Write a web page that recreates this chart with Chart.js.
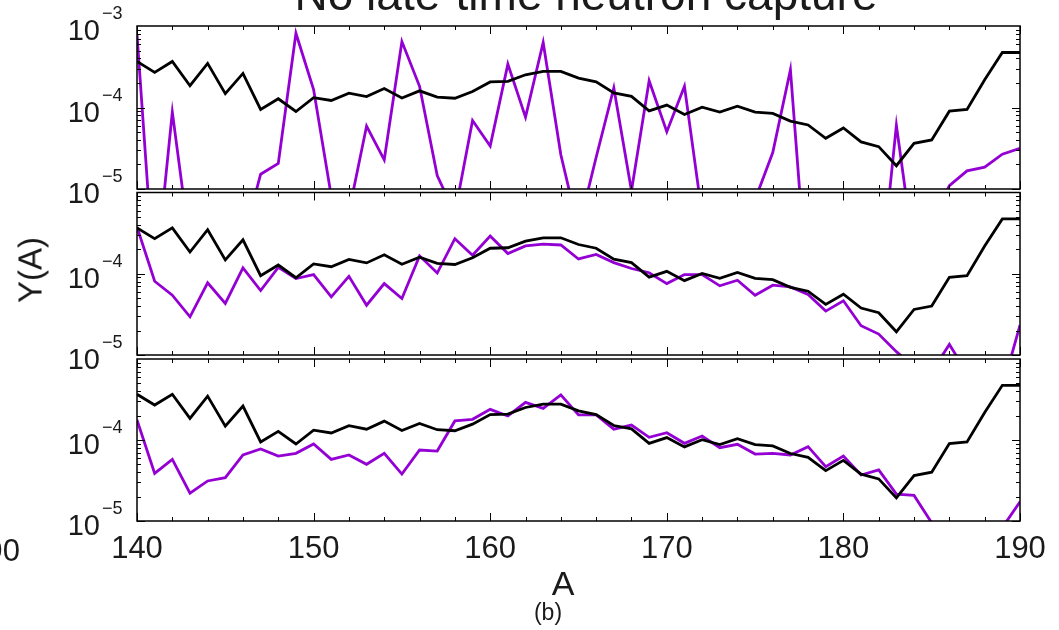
<!DOCTYPE html>
<html>
<head>
<meta charset="utf-8">
<script src="https://cdn.jsdelivr.net/npm/chart.js@4/dist/chart.umd.min.js"></script>
<style>
  html, body { margin: 0; padding: 0; background: #fff; }
  #wrap { position: relative; width: 1059px; height: 630px; overflow: hidden;
          font-family: "Liberation Sans", Arial, sans-serif; color: #1a1a1a; }
  #wrap canvas { position: absolute; left: 0; top: 0; }
  .txt { position: absolute; white-space: nowrap; line-height: 1; }
</style>
</head>
<body>
<div id="wrap">
  <canvas id="panel1" width="1059" height="630"></canvas>
  <canvas id="panel2" width="1059" height="630"></canvas>
  <canvas id="panel3" width="1059" height="630"></canvas>
  <div class="txt" id="title" style="left:586px; top:-29px; font-size:46px; transform:translateX(-50%);">No late-time neutron capture</div>
  <div class="txt" id="ylabel" style="left:30px; top:270px; font-size:33px; transform:translate(-50%,-50%) rotate(-90deg);">Y(A)</div>
  <div class="txt" id="xlabel" style="left:563px; top:566px; font-size:34px; transform:translateX(-50%);">A</div>
  <div class="txt" id="tag" style="left:548px; top:601px; font-size:23px; transform:translateX(-50%);">(b)</div>
  <div class="txt" id="cutTick" style="right:1039px; top:535px; font-size:31px; text-align:right;">190</div>
</div>
<script>
// Mass numbers
const massA = [140, 141, 142, 143, 144, 145, 146, 147, 148, 149,
               150, 151, 152, 153, 154, 155, 156, 157, 158, 159,
               160, 161, 162, 163, 164, 165, 166, 167, 168, 169,
               170, 171, 172, 173, 174, 175, 176, 177, 178, 179,
               180, 181, 182, 183, 184, 185, 186, 187, 188, 189, 190];

// Reference abundances (black, same in every panel)
const solarY = [3.67e-4, 2.70e-4, 3.67e-4, 1.85e-4, 3.48e-4, 1.48e-4, 2.62e-4, 9.46e-5, 1.28e-4, 8.93e-5,
                1.32e-4, 1.22e-4, 1.50e-4, 1.36e-4, 1.71e-4, 1.31e-4, 1.60e-4, 1.34e-4, 1.30e-4, 1.57e-4,
                2.06e-4, 2.09e-4, 2.52e-4, 2.77e-4, 2.77e-4, 2.29e-4, 2.06e-4, 1.51e-4, 1.37e-4, 9.10e-5,
                1.07e-4, 8.22e-5, 1.01e-4, 8.77e-5, 1.04e-4, 8.77e-5, 8.45e-5, 6.81e-5, 6.10e-5, 4.19e-5,
                5.60e-5, 3.78e-5, 3.31e-5, 1.93e-5, 3.64e-5, 4.00e-5, 9.02e-5, 9.46e-5, 2.19e-4, 4.73e-4, 4.73e-4];

// Model abundances (purple), one array per panel
const modelTop = [7.9e-4, 6.3e-7, 8.77e-5, 2.0e-6, 1.6e-6, 1.6e-6, 2.3e-6, 1.52e-5, 2.06e-5, 8.15e-4,
                  1.66e-4, 8.2e-6, 5.2e-6, 5.92e-5, 2.28e-5, 6.44e-4, 1.82e-4, 1.46e-5, 5.0e-6, 6.93e-5,
                  3.37e-5, 3.41e-4, 7.62e-5, 6.27e-4, 2.63e-5, 3.2e-6, 2.45e-5, 1.74e-4, 9.5e-6, 2.13e-4,
                  5.05e-5, 1.82e-4, 4.8e-6, 1.6e-6, 2.5e-6, 7.4e-6, 2.80e-5, 2.90e-4, 4.2e-7, 3.0e-7,
                  3.0e-7, 3.0e-7, 4.5e-7, 6.03e-5, 1.6e-6, 4.0e-6, 1.10e-5, 1.67e-5, 1.85e-5, 2.67e-5, 3.16e-5];

const modelMid = [3.76e-4, 8.09e-5, 5.44e-5, 2.95e-5, 7.73e-5, 4.31e-5, 1.18e-4, 6.21e-5, 1.20e-4, 8.73e-5,
                  9.77e-5, 5.20e-5, 9.31e-5, 4.10e-5, 7.57e-5, 4.95e-5, 1.66e-4, 1.02e-4, 2.70e-4, 1.69e-4,
                  2.91e-4, 1.77e-4, 2.20e-4, 2.32e-4, 2.26e-4, 1.52e-4, 1.73e-4, 1.37e-4, 1.16e-4, 1.03e-4,
                  7.57e-5, 9.77e-5, 9.77e-5, 7.10e-5, 8.32e-5, 5.44e-5, 7.23e-5, 6.89e-5, 5.55e-5, 3.47e-5,
                  4.65e-5, 2.29e-5, 1.81e-5, 1.10e-5, 7.1e-6, 6.2e-6, 1.35e-5, 6.0e-6, 5.0e-6, 3.9e-6, 2.33e-5];

const modelBot = [1.77e-4, 3.87e-5, 5.77e-5, 2.20e-5, 3.12e-5, 3.43e-5, 6.53e-5, 7.74e-5, 6.34e-5, 6.84e-5,
                  8.93e-5, 5.77e-5, 6.53e-5, 5.01e-5, 6.84e-5, 3.80e-5, 7.53e-5, 7.31e-5, 1.72e-4, 1.80e-4,
                  2.39e-4, 1.98e-4, 2.92e-4, 2.46e-4, 3.60e-4, 2.04e-4, 2.04e-4, 1.36e-4, 1.53e-4, 1.08e-4,
                  1.23e-4, 9.10e-5, 1.12e-4, 8.04e-5, 8.85e-5, 6.71e-5, 6.84e-5, 6.53e-5, 8.28e-5, 4.69e-5,
                  6.34e-5, 3.70e-5, 4.27e-5, 2.15e-5, 2.07e-5, 9.5e-6, 5.0e-6, 4.0e-6, 5.0e-6, 8.3e-6, 1.73e-5];

// Exponents labelled on each panel's y axis
const topExponents = [-3, -4, -5];
const lowerExponents = [-4, -5];
const xTickStep = 10;

const FONT = '"Liberation Sans", Arial, sans-serif';
const TEXT = '#1a1a1a';
const PURPLE = '#9400d3';

// Frame, inward ticks and 10^n labels
const framePlugin = {
  id: 'frame',
  afterDraw(chart, args, opts) {
    const { ctx, chartArea: a, scales } = chart;
    const x = scales.x, y = scales.y;
    ctx.save();
    ctx.strokeStyle = '#000';
    ctx.lineWidth = 1.5;
    ctx.strokeRect(a.left, a.top, a.right - a.left, a.bottom - a.top);

    ctx.lineWidth = 1;
    ctx.beginPath();
    for (let v = x.min; v <= x.max; v += 2) {
      const px = Math.round(x.getPixelForValue(v)) + 0.5;
      const len = v % 10 === 0 ? 8 : 4;
      ctx.moveTo(px, a.top); ctx.lineTo(px, a.top + len);
      ctx.moveTo(px, a.bottom); ctx.lineTo(px, a.bottom - len);
    }
    for (let d = -5; d < -3; d++) {
      for (let m = 1; m <= 9; m++) {
        const v = m * Math.pow(10, d);
        const py = Math.round(y.getPixelForValue(v)) + 0.5;
        const len = m === 1 ? 8 : 4;
        ctx.moveTo(a.left, py); ctx.lineTo(a.left + len, py);
        ctx.moveTo(a.right, py); ctx.lineTo(a.right - len, py);
      }
    }
    ctx.stroke();

    ctx.fillStyle = TEXT;
    ctx.textBaseline = 'alphabetic';
    (opts.exponents || []).forEach(p => {
      const py = y.getPixelForValue(Math.pow(10, p));
      ctx.font = '29px ' + FONT;
      ctx.textAlign = 'right';
      ctx.fillText('10', 100, py + 14);
      ctx.font = '18px ' + FONT;
      ctx.textAlign = 'left';
      ctx.fillText('\u2212' + (-p), 102, py - 7);
    });
    ctx.restore();
  }
};

function makePanel(id, model, area, exponents, showX) {
  const toPoints = vals => massA.map((a, i) => ({ x: a, y: vals[i] }));
  new Chart(document.getElementById(id), {
    type: 'line',
    data: {
      datasets: [
        { data: toPoints(solarY), borderColor: '#000', borderWidth: 2.8, pointRadius: 0, tension: 0, clip: 0 },
        { data: toPoints(model), borderColor: PURPLE, borderWidth: 2.8, pointRadius: 0, tension: 0, clip: 0 }
      ]
    },
    options: {
      responsive: false,
      animation: false,
      events: [],
      layout: { padding: { left: 137, right: 39, top: area[0], bottom: showX ? 0 : 630 - area[1] } },
      plugins: {
        legend: { display: false },
        tooltip: { enabled: false },
        frame: { exponents: exponents }
      },
      scales: {
        x: {
          type: 'linear', min: 140, max: 190,
          display: showX,
          grid: { display: false, drawTicks: false },
          border: { display: false },
          ticks: { stepSize: xTickStep, color: TEXT, padding: 10, font: { size: 31, family: FONT } },
          afterFit: scale => { if (showX) scale.height = 630 - area[1]; }
        },
        y: {
          type: 'logarithmic', min: 1e-5, max: 1e-3,
          display: false
        }
      }
    },
    plugins: [framePlugin]
  });
}

makePanel('panel1', modelTop, [26, 189], topExponents, false);
makePanel('panel2', modelMid, [192.5, 355], lowerExponents, false);
makePanel('panel3', modelBot, [359, 521], lowerExponents, true);
</script>
</body>
</html>
